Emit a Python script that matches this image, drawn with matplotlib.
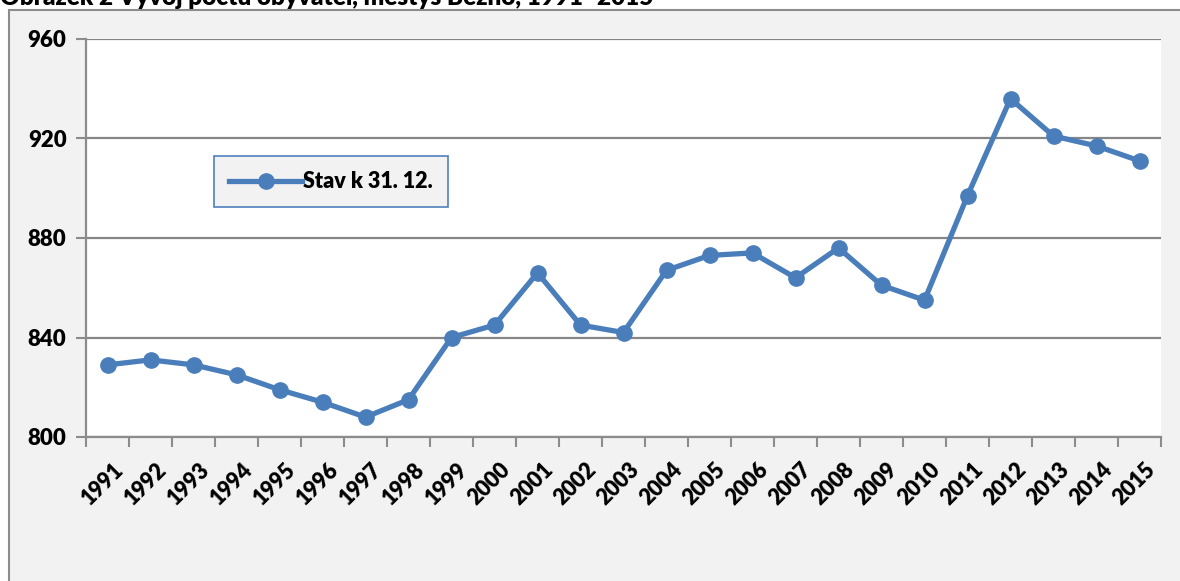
import numpy as np
import matplotlib.pyplot as plt
import matplotlib.transforms as mtransforms
from matplotlib.patches import Rectangle

years = [str(y) for y in range(1991, 2016)]
obyvatel = [829, 831, 829, 825, 819, 814, 808, 815, 840, 845, 866, 845, 842,
            867, 873, 874, 864, 876, 861, 855, 897, 936, 921, 917, 911]
yticks = [800, 840, 880, 920, 960]

plt.rcParams['font.family'] = ['Lato', 'DejaVu Sans']
plt.rcParams['font.weight'] = 'heavy'

W, H = 1180, 581
fig = plt.figure(figsize=(W/100, H/100), dpi=100)
fig.patch.set_facecolor('white')

# outer chart area
fig.patches.append(Rectangle((9/W, -0.1), 1.2, 1 - 10/H + 0.1, transform=fig.transFigure,
                             facecolor='#f2f2f2', edgecolor='#8c8c8c', lw=1.5, zorder=-5))
fig.text(0, 1 - 5/H, 'Obrázek 2 Vývoj počtu obyvatel, městys Bezno, 1991–2015',
         fontsize=17.5, fontweight='heavy', va='baseline', ha='left')

ax = fig.add_axes([86/W, 1 - 437/H, (1161-86)/W, (437-39)/H])
ax.set_facecolor('white')
x = np.arange(len(years))
ax.plot(x, obyvatel, color='#4a7ebb', lw=3.8, marker='o', ms=11,
        solid_joinstyle='round', label='Stav k 31. 12.', zorder=3)

ax.set_xlim(-0.5, len(years) - 0.5)
ax.set_ylim(800, 960)
ax.set_yticks(yticks)
ax.set_yticklabels([str(v) for v in yticks], fontsize=16, fontweight='heavy')
ax.set_xticks(x)
ax.set_xticklabels(years, rotation=45, ha='right', va='top', rotation_mode='anchor',
                   fontsize=15.5, fontweight='heavy')
ax.set_xticks(np.arange(-0.5, len(years)), minor=True)
ax.tick_params(axis='x', which='major', length=0, pad=16)
ax.tick_params(axis='x', which='minor', length=7, width=1.5, color='#8c8c8c')
ax.tick_params(axis='y', length=7, width=1.5, color='#8c8c8c', pad=7)
shift = mtransforms.ScaledTranslation(5/100, 0, fig.dpi_scale_trans)
for lab in ax.get_xticklabels():
    lab.set_transform(lab.get_transform() + shift)

ax.grid(axis='y', color='#868686', lw=1.6)
ax.set_axisbelow(True)
for s in ['top', 'right']:
    ax.spines[s].set_visible(False)
for s in ['left', 'bottom']:
    ax.spines[s].set_color('#8c8c8c')
    ax.spines[s].set_linewidth(1.6)

leg = ax.legend(loc='upper left', bbox_to_anchor=(214/W, 1 - 156/H), bbox_transform=fig.transFigure,
                borderaxespad=0, fancybox=False, handlelength=3.4, handletextpad=0.05,
                borderpad=0.7, prop={'size': 15.5, 'weight': 'heavy'})
leg.get_frame().set_facecolor('#f2f2f2')
leg.get_frame().set_edgecolor('#4f81bd')
leg.get_frame().set_linewidth(1.2)
leg.get_frame().set_alpha(1)

fig.savefig('out.png', dpi=100)
